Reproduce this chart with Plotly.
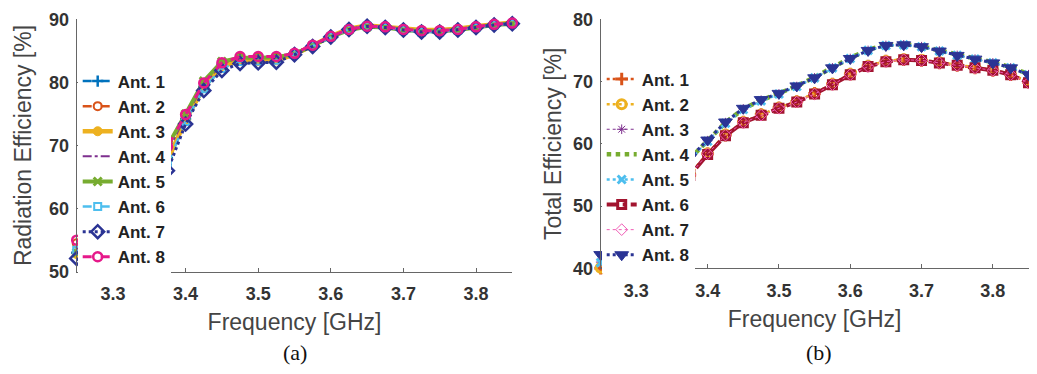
import plotly.graph_objects as go

freq = [3.25, 3.275, 3.3, 3.325, 3.35, 3.375, 3.4, 3.425, 3.45, 3.475, 3.5, 3.525, 3.55,
        3.575, 3.6, 3.625, 3.65, 3.675, 3.7, 3.725, 3.75, 3.775, 3.8, 3.825, 3.85]

# (a) Radiation efficiency [%]
rad_ant1 = [53.0, 50.8, 51.5, 55.5, 61.5, 68.0, 74.2, 79.3, 82.8, 83.8, 83.8, 83.9, 84.5, 85.8, 87.2, 88.3, 88.9, 88.7, 88.3, 88.1, 88.1, 88.3, 88.7, 89.1, 89.3]
rad_ant2 = [54.5, 52.0, 53.0, 57.0, 63.0, 69.4, 74.8, 79.8, 83.0, 84.0, 84.0, 84.0, 84.6, 85.9, 87.3, 88.4, 88.9, 88.8, 88.4, 88.2, 88.2, 88.4, 88.8, 89.2, 89.4]
rad_ant3 = [52.8, 50.5, 51.2, 55.2, 61.2, 67.8, 74.0, 79.2, 82.6, 83.4, 83.4, 83.5, 84.4, 85.8, 87.3, 88.5, 89.0, 88.8, 88.5, 88.3, 88.3, 88.5, 88.9, 89.2, 89.5]
rad_ant4 = [53.8, 51.5, 52.5, 56.5, 62.5, 69.0, 74.6, 79.6, 83.0, 84.0, 84.0, 84.0, 84.6, 85.9, 87.3, 88.4, 88.9, 88.8, 88.4, 88.2, 88.2, 88.4, 88.8, 89.2, 89.4]
rad_ant5 = [53.0, 51.0, 52.2, 56.8, 63.2, 69.9, 75.0, 80.2, 83.3, 83.9, 83.9, 84.0, 84.5, 85.8, 87.2, 88.3, 88.8, 88.7, 88.3, 88.1, 88.1, 88.3, 88.7, 89.1, 89.3]
rad_ant6 = [53.4, 50.5, 50.8, 54.5, 60.8, 67.0, 73.8, 79.0, 82.2, 83.3, 83.4, 83.5, 84.5, 85.8, 87.2, 88.4, 88.9, 88.7, 88.3, 88.0, 88.0, 88.3, 88.7, 89.1, 89.3]
rad_ant7 = [52.1, 49.8, 49.8, 53.5, 60.0, 66.0, 73.4, 78.7, 81.9, 83.0, 83.1, 83.2, 84.4, 85.7, 87.2, 88.4, 88.9, 88.7, 88.3, 88.0, 88.0, 88.3, 88.7, 89.1, 89.3]
rad_ant8 = [55.0, 52.5, 53.5, 57.5, 63.5, 69.8, 74.9, 79.9, 83.1, 84.1, 84.1, 84.1, 84.6, 85.9, 87.3, 88.4, 88.9, 88.8, 88.4, 88.2, 88.2, 88.4, 88.8, 89.2, 89.4]

# (b) Total efficiency [%]
tot_ant1 = [40.0, 40.6, 43.2, 46.7, 50.7, 55.0, 58.4, 61.4, 63.5, 64.7, 65.8, 66.8, 68.1, 69.6, 71.2, 72.5, 73.3, 73.5, 73.4, 73.0, 72.6, 72.2, 71.8, 71.1, 69.9]
tot_ant2 = [40.1, 40.7, 43.3, 46.8, 50.8, 55.1, 58.5, 61.5, 63.5, 64.7, 65.8, 66.8, 68.1, 69.6, 71.2, 72.5, 73.3, 73.6, 73.5, 73.1, 72.7, 72.3, 71.9, 71.2, 70.0]
tot_ant3 = [41.0, 43.4, 46.1, 49.7, 53.7, 57.5, 60.5, 63.4, 65.6, 67.0, 68.0, 69.2, 70.6, 72.2, 73.7, 75.0, 75.8, 75.9, 75.6, 74.9, 74.2, 73.6, 73.0, 72.2, 71.1]
tot_ant4 = [41.2, 43.6, 46.2, 49.8, 53.8, 57.6, 60.5, 63.4, 65.6, 67.0, 68.1, 69.3, 70.7, 72.3, 73.8, 75.1, 75.9, 76.0, 75.7, 75.0, 74.3, 73.7, 73.1, 72.3, 71.2]
tot_ant5 = [40.9, 43.3, 46.0, 49.6, 53.6, 57.4, 60.4, 63.3, 65.5, 66.9, 68.0, 69.2, 70.6, 72.2, 73.7, 75.0, 75.8, 75.9, 75.6, 74.9, 74.2, 73.6, 73.0, 72.2, 71.1]
tot_ant6 = [39.8, 40.3, 43.0, 46.5, 50.5, 54.9, 58.3, 61.3, 63.4, 64.6, 65.7, 66.7, 68.0, 69.5, 71.1, 72.4, 73.2, 73.5, 73.4, 73.0, 72.6, 72.2, 71.8, 71.1, 69.8]
tot_ant7 = [39.9, 40.4, 43.1, 46.6, 50.6, 55.0, 58.4, 61.4, 63.4, 64.6, 65.7, 66.7, 68.0, 69.5, 71.1, 72.4, 73.2, 73.5, 73.4, 73.0, 72.6, 72.2, 71.8, 71.1, 69.8]
tot_ant8 = [42.2, 44.0, 46.5, 50.0, 54.0, 57.8, 60.6, 63.5, 65.7, 67.1, 68.1, 69.3, 70.6, 72.2, 73.7, 75.0, 75.8, 75.9, 75.6, 74.9, 74.2, 73.6, 73.0, 72.2, 71.1]

names = ["Ant. 1", "Ant. 2", "Ant. 3", "Ant. 4", "Ant. 5", "Ant. 6", "Ant. 7", "Ant. 8"]
x_ticks = [3.3, 3.4, 3.5, 3.6, 3.7, 3.8]
y_ticks_a = [50, 60, 70, 80, 90]
y_ticks_b = [40, 50, 60, 70, 80]

rad = [rad_ant1, rad_ant2, rad_ant3, rad_ant4, rad_ant5, rad_ant6, rad_ant7, rad_ant8]
tot = [tot_ant1, tot_ant2, tot_ant3, tot_ant4, tot_ant5, tot_ant6, tot_ant7, tot_ant8]

# styles: (color, dash, width, marker symbol, marker size, marker line width)
style_a = [
    ("#0072BD", "dash", 2.5, "cross-thin-open", 8, 2.5),
    ("#D95319", "dash", 2.5, "circle-open", 8, 2),
    ("#EDB120", "solid", 4.5, "circle", 9, 1),
    ("#7E2F8E", "dashdot", 2, None, 6, 1),
    ("#77AC30", "solid", 4, "x-thin-open", 8, 3),
    ("#4DBEEE", "dash", 2.5, "square-open", 7, 2),
    ("#2B3494", "dot", 3, "diamond-open", 10, 2.5),
    ("#E6198A", "dash", 3, "circle-open", 9, 2.5),
]
style_b = [
    ("#D95319", "dot", 2.5, "cross-thin-open", 9, 3),
    ("#EDB120", "dot", 2.5, "circle-open", 9, 3),
    ("#7E2F8E", "dot", 1, "asterisk-open", 8, 1),
    ("#77AC30", "dot", 4.5, None, 6, 1),
    ("#4DBEEE", "dot", 2.5, "x-thin-open", 8, 3),
    ("#A2142F", "dashdot", 4, "square-open", 8, 3),
    ("#F05BB5", "dot", 1, "diamond-open", 9, 1),
    ("#2B3494", "dot", 3, "triangle-down", 12, 1),
]

fig = go.Figure()

def add(xv, yv, name, st, xa, ya, leg):
    color, dash, width, sym, msize, mlw = st
    mode = "lines+markers" if sym else "lines"
    mk = dict(symbol=sym, size=msize, color=color, line=dict(color=color, width=mlw)) if sym else None
    fig.add_trace(go.Scatter(
        x=xv, y=yv, name=name, mode=mode, xaxis=xa, yaxis=ya, legend=leg,
        line=dict(color=color, dash=dash, width=width), marker=mk, cliponaxis=False,
    ))

for i in range(8):
    add(freq, rad[i], names[i], style_a[i], "x", "y", "legend")
for i in range(8):
    add(freq, tot[i], names[i], style_b[i], "x2", "y2", "legend2")

# the page body adds an 8 px margin; keep the figure fully inside the window
OFF = 8
W, H = 1037 - 2 * OFF, 374 - 2 * OFF

def px_x(p):
    return (p - OFF) / W

def px_y(p):
    return (H - (p - OFF)) / H

axis_gray = "#666666"
tickfont = dict(family="Liberation Sans, Arial, sans-serif", size=18, color="#333333", weight="bold")
titlefont = dict(family="Liberation Sans, Arial, sans-serif", size=23, color="#444444")

def xax(dom, anchor):
    return dict(domain=dom, anchor=anchor, range=[3.25, 3.85], tickvals=x_ticks,
                ticktext=[f"{v:.1f}" for v in x_ticks], showline=True, linecolor=axis_gray,
                linewidth=1, ticks="inside", ticklen=4, tickcolor=axis_gray, showgrid=False,
                zeroline=False, tickfont=tickfont, ticklabelstandoff=6, automargin=False,
                ticklabeloverflow="allow",
                title=dict(text="Frequency [GHz]", font=titlefont, standoff=10))

def yax(dom, anchor, rng, tv, title, standoff):
    return dict(domain=dom, anchor=anchor, range=rng, tickvals=tv, showline=True,
                linecolor=axis_gray, linewidth=1, ticks="inside", ticklen=4, tickcolor=axis_gray,
                showgrid=False, zeroline=False, tickfont=tickfont, ticklabelstandoff=3,
                automargin=False, ticklabeloverflow="allow",
                title=dict(text=title, font=titlefont, standoff=standoff))

legfont = dict(family="Liberation Sans, Arial, sans-serif", size=17, color="#222222", weight="bold")
serif = dict(family="Liberation Serif, Times New Roman, serif", size=22, color="#111111")

fig.update_layout(
    width=W, height=H, margin=dict(l=0, r=0, t=0, b=0),
    paper_bgcolor="white", plot_bgcolor="white", showlegend=True,
    xaxis=xax([px_x(76.7), px_x(512.3)], "y"),
    yaxis=yax([px_y(271.7), px_y(19.3)], "x", [50, 90], y_ticks_a, "Radiation Efficiency [%]", 11),
    xaxis2=xax([px_x(600.7), px_x(1028.5)], "y2"),
    yaxis2=yax([px_y(268.3), px_y(19.3)], "x2", [40, 80], y_ticks_b, "Total Efficiency [%]", 5),
    legend=dict(x=px_x(77.7), y=px_y(63.5), xanchor="left", yanchor="top", bgcolor="white",
                borderwidth=0, font=legfont, itemwidth=30, tracegroupgap=0),
    legend2=dict(x=px_x(601.7), y=px_y(61.5), xanchor="left", yanchor="top", bgcolor="white",
                 borderwidth=0, font=legfont, itemwidth=30, tracegroupgap=0),
    annotations=[
        dict(text="(a)", x=px_x(294.5), y=px_y(352), xref="paper", yref="paper",
             showarrow=False, xanchor="center", yanchor="middle", font=serif),
        dict(text="(b)", x=px_x(819), y=px_y(352), xref="paper", yref="paper",
             showarrow=False, xanchor="center", yanchor="middle", font=serif),
    ],
)

fig.write_html("out.html")
